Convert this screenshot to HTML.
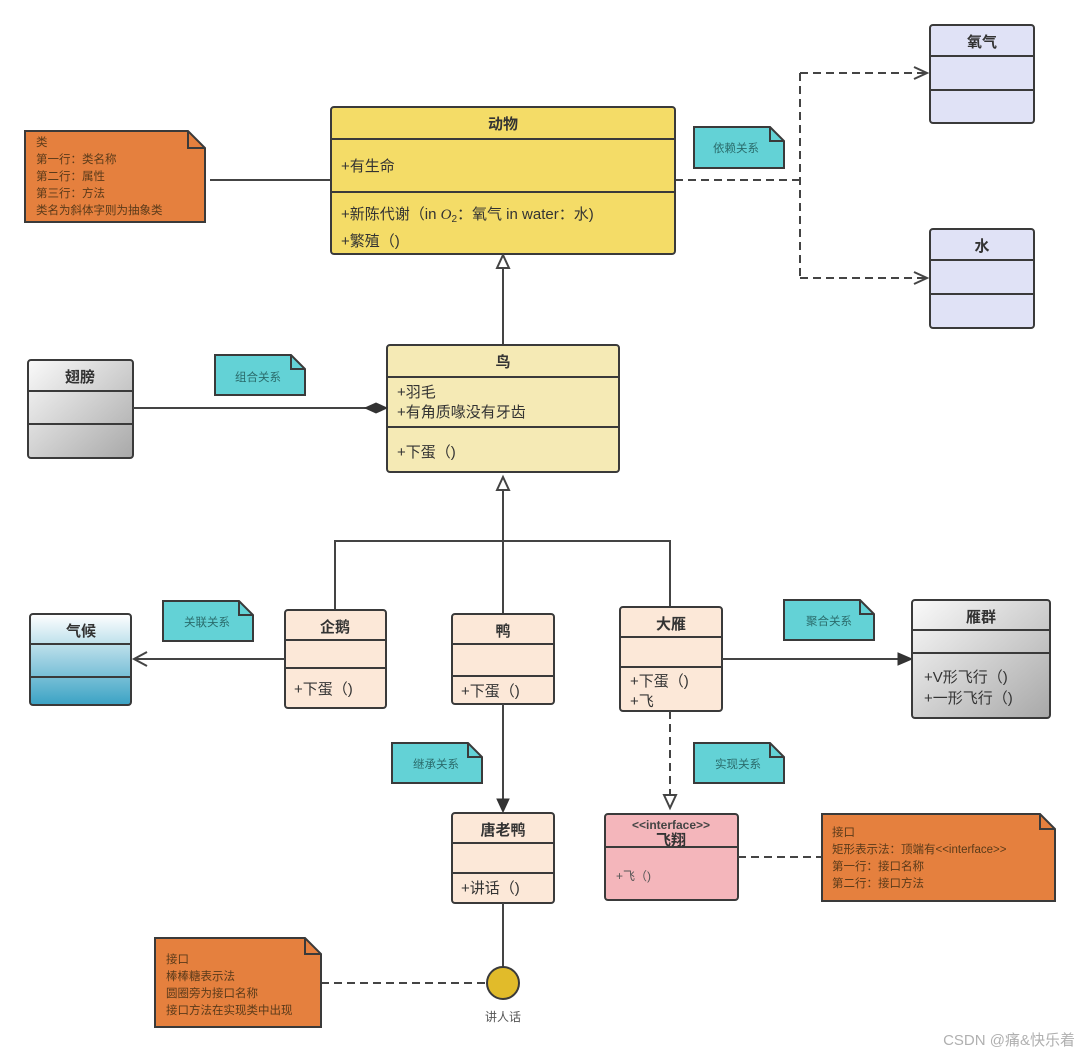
<!DOCTYPE html>
<html><head><meta charset="utf-8"><style>
body{margin:0;background:#fff;}
svg{display:block;font-family:"Liberation Sans","Noto Sans CJK SC",sans-serif;}
.h{font-weight:bold;font-size:15px;fill:#333;text-anchor:middle;}
.a{font-size:15px;fill:#333;}
.n{font-size:11.5px;fill:#5a3a1a;}
.c{font-size:11.5px;fill:#2a6b6b;text-anchor:middle;}
.b{stroke:#3a3a3a;stroke-width:2;}
.l{stroke:#444;stroke-width:2;fill:none;}
.d{stroke:#444;stroke-width:2;fill:none;stroke-dasharray:8,5;}
</style></head><body>
<svg width="1080" height="1056" viewBox="0 0 1080 1056">
<defs>
<linearGradient id="gg" x1="0" y1="0" x2="1" y2="1"><stop offset="0" stop-color="#fafafa"/><stop offset="1" stop-color="#a8a8a8"/></linearGradient>
<linearGradient id="gb" x1="0" y1="0" x2="0" y2="1"><stop offset="0" stop-color="#ffffff"/><stop offset="1" stop-color="#3aa2c4"/></linearGradient>
</defs>

<!-- 氧气 -->
<rect x="930" y="25" width="104" height="98" rx="3" fill="#e0e2f6" class="b"/>
<line x1="930" y1="56" x2="1034" y2="56" class="b"/><line x1="930" y1="90" x2="1034" y2="90" class="b"/>
<text x="982" y="47" class="h">氧气</text>
<!-- 水 -->
<rect x="930" y="229" width="104" height="99" rx="3" fill="#e0e2f6" class="b"/>
<line x1="930" y1="260" x2="1034" y2="260" class="b"/><line x1="930" y1="294" x2="1034" y2="294" class="b"/>
<text x="982" y="251" class="h">水</text>

<!-- dependency -->
<path d="M675 180 H800 M800 73 V278 M800 73 H926 M800 278 H926" class="d"/>
<path d="M914 67 L927 73 L914 79 M914 272 L927 278 L914 284" class="l"/>

<!-- note 1 -->
<path d="M25 131 H188 L205 148 V222 H25 Z" fill="#e5803e" class="b"/>
<path d="M188 131 V148 H205" fill="none" class="b"/>
<text class="n"><tspan x="36" y="146">类</tspan><tspan x="36" y="163">第一行：类名称</tspan><tspan x="36" y="180">第二行：属性</tspan><tspan x="36" y="197">第三行：方法</tspan><tspan x="36" y="214">类名为斜体字则为抽象类</tspan></text>
<line x1="210" y1="180" x2="331" y2="180" class="l"/>

<!-- 动物 -->
<rect x="331" y="107" width="344" height="147" rx="3" fill="#f4dc67" class="b"/>
<line x1="331" y1="139" x2="675" y2="139" class="b"/><line x1="331" y1="192" x2="675" y2="192" class="b"/>
<text x="503" y="129" class="h">动物</text>
<text x="341" y="171" class="a">+有生命</text>
<text x="341" y="219" class="a">+新陈代谢（in <tspan font-family="Liberation Serif" font-style="italic">O</tspan><tspan font-size="10" dy="3">2</tspan><tspan dy="-3">：氧气 in water：水)</tspan></text>
<text x="341" y="246" class="a">+繁殖（)</text>

<!-- 依赖关系 -->
<path d="M694 127 H770 L784 141 V168 H694 Z" fill="#63d2d6" class="b"/><path d="M770 127 V141 H784" fill="none" class="b"/>
<text x="736" y="152" class="c">依赖关系</text>

<!-- inherit 鸟->动物 -->
<line x1="503" y1="345" x2="503" y2="268" class="l"/>
<path d="M497 268 L503 255 L509 268 Z" fill="#fff" class="l"/>

<!-- 鸟 -->
<rect x="387" y="345" width="232" height="127" rx="3" fill="#f5eab5" class="b"/>
<line x1="387" y1="377" x2="619" y2="377" class="b"/><line x1="387" y1="427" x2="619" y2="427" class="b"/>
<text x="503" y="367" class="h">鸟</text>
<text x="397" y="397" class="a">+羽毛</text>
<text x="397" y="417" class="a">+有角质喙没有牙齿</text>
<text x="397" y="457" class="a">+下蛋（)</text>

<!-- 翅膀 -->
<rect x="28" y="360" width="105" height="98" rx="3" fill="url(#gg)" class="b"/>
<line x1="28" y1="391" x2="133" y2="391" class="b"/><line x1="28" y1="424" x2="133" y2="424" class="b"/>
<text x="80" y="382" class="h">翅膀</text>
<line x1="133" y1="408" x2="366" y2="408" class="l"/>
<path d="M365 408 L376 403 L387 408 L376 413 Z" fill="#333" stroke="#333"/>
<path d="M215 355 H291 L305 369 V395 H215 Z" fill="#63d2d6" class="b"/><path d="M291 355 V369 H305" fill="none" class="b"/>
<text x="258" y="381" class="c">组合关系</text>

<!-- tree -->
<line x1="503" y1="490" x2="503" y2="614" class="l"/>
<path d="M497 490 L503 477 L509 490 Z" fill="#fff" class="l"/>
<path d="M335 610 V541 H670 V607" class="l"/>

<!-- 企鹅 -->
<rect x="285" y="610" width="101" height="98" rx="3" fill="#fce8d8" class="b"/>
<line x1="285" y1="640" x2="386" y2="640" class="b"/><line x1="285" y1="668" x2="386" y2="668" class="b"/>
<text x="335" y="632" class="h">企鹅</text>
<text x="294" y="694" class="a">+下蛋（)</text>
<!-- 鸭 -->
<rect x="452" y="614" width="102" height="90" rx="3" fill="#fce8d8" class="b"/>
<line x1="452" y1="644" x2="554" y2="644" class="b"/><line x1="452" y1="676" x2="554" y2="676" class="b"/>
<text x="503" y="636" class="h">鸭</text>
<text x="461" y="696" class="a">+下蛋（)</text>
<!-- 大雁 -->
<rect x="620" y="607" width="102" height="104" rx="3" fill="#fce8d8" class="b"/>
<line x1="620" y1="637" x2="722" y2="637" class="b"/><line x1="620" y1="667" x2="722" y2="667" class="b"/>
<text x="671" y="629" class="h">大雁</text>
<text x="630" y="686" class="a">+下蛋（)</text>
<text x="630" y="706" class="a">+飞</text>

<!-- 气候 -->
<rect x="30" y="614" width="101" height="91" rx="3" fill="url(#gb)" class="b"/>
<line x1="30" y1="644" x2="131" y2="644" class="b"/><line x1="30" y1="677" x2="131" y2="677" class="b"/>
<text x="81" y="636" class="h">气候</text>
<line x1="285" y1="659" x2="134" y2="659" class="l"/>
<path d="M147 652 L134 659 L147 666" class="l"/>
<path d="M163 601 H239 L253 615 V641 H163 Z" fill="#63d2d6" class="b"/><path d="M239 601 V615 H253" fill="none" class="b"/>
<text x="207" y="626" class="c">关联关系</text>

<!-- 雁群 -->
<line x1="722" y1="659" x2="900" y2="659" class="l"/>
<path d="M898 653 L912 659 L898 665 Z" fill="#333" stroke="#333"/>
<rect x="912" y="600" width="138" height="118" rx="3" fill="url(#gg)" class="b"/>
<line x1="912" y1="630" x2="1050" y2="630" class="b"/><line x1="912" y1="653" x2="1050" y2="653" class="b"/>
<text x="981" y="622" class="h">雁群</text>
<text x="924" y="682" class="a">+V形飞行（)</text>
<text x="924" y="703" class="a">+一形飞行（)</text>
<path d="M784 600 H860 L874 614 V640 H784 Z" fill="#63d2d6" class="b"/><path d="M860 600 V614 H874" fill="none" class="b"/>
<text x="829" y="625" class="c">聚合关系</text>

<!-- 唐老鸭 -->
<line x1="503" y1="704" x2="503" y2="800" class="l"/>
<path d="M497 799 L503 812 L509 799 Z" fill="#333" stroke="#333"/>
<rect x="452" y="813" width="102" height="90" rx="3" fill="#fce8d8" class="b"/>
<line x1="452" y1="843" x2="554" y2="843" class="b"/><line x1="452" y1="873" x2="554" y2="873" class="b"/>
<text x="503" y="835" class="h">唐老鸭</text>
<text x="461" y="893" class="a">+讲话（)</text>
<path d="M392 743 H468 L482 757 V783 H392 Z" fill="#63d2d6" class="b"/><path d="M468 743 V757 H482" fill="none" class="b"/>
<text x="436" y="768" class="c">继承关系</text>

<!-- realization -->
<line x1="670" y1="711" x2="670" y2="795" class="d"/>
<path d="M664 795 L670 808 L676 795 Z" fill="#fff" class="l"/>
<path d="M694 743 H770 L784 757 V783 H694 Z" fill="#63d2d6" class="b"/><path d="M770 743 V757 H784" fill="none" class="b"/>
<text x="738" y="768" class="c">实现关系</text>

<!-- 飞翔 -->
<rect x="605" y="814" width="133" height="86" rx="3" fill="#f4b6bb" class="b"/>
<line x1="605" y1="847" x2="738" y2="847" class="b"/>
<text x="671" y="829" text-anchor="middle" font-size="12" font-weight="bold" fill="#444">&lt;&lt;interface&gt;&gt;</text>
<text x="671" y="845" class="h" font-size="12">飞翔</text>
<text x="616" y="880" font-size="12" fill="#555">+飞（)</text>
<line x1="738" y1="857" x2="822" y2="857" class="d"/>
<path d="M822 814 H1040 L1055 829 V901 H822 Z" fill="#e5803e" class="b"/><path d="M1040 814 V829 H1055" fill="none" class="b"/>
<text class="n"><tspan x="832" y="836">接口</tspan><tspan x="832" y="853">矩形表示法：顶端有&lt;&lt;interface&gt;&gt;</tspan><tspan x="832" y="870">第一行：接口名称</tspan><tspan x="832" y="887">第二行：接口方法</tspan></text>

<!-- lollipop -->
<line x1="503" y1="903" x2="503" y2="967" class="l"/>
<circle cx="503" cy="983" r="16" fill="#e1bb2a" class="b"/>
<text x="503" y="1021" text-anchor="middle" font-size="12" fill="#555">讲人话</text>
<line x1="321" y1="983" x2="487" y2="983" class="d"/>
<path d="M155 938 H305 L321 954 V1027 H155 Z" fill="#e5803e" class="b"/><path d="M305 938 V954 H321" fill="none" class="b"/>
<text class="n"><tspan x="166" y="963">接口</tspan><tspan x="166" y="980">棒棒糖表示法</tspan><tspan x="166" y="997">圆圈旁为接口名称</tspan><tspan x="166" y="1014">接口方法在实现类中出现</tspan></text>

<text x="1075" y="1045" text-anchor="end" font-size="15" fill="#b0b0b0">CSDN @痛&amp;快乐着</text>
</svg>
</body></html>
